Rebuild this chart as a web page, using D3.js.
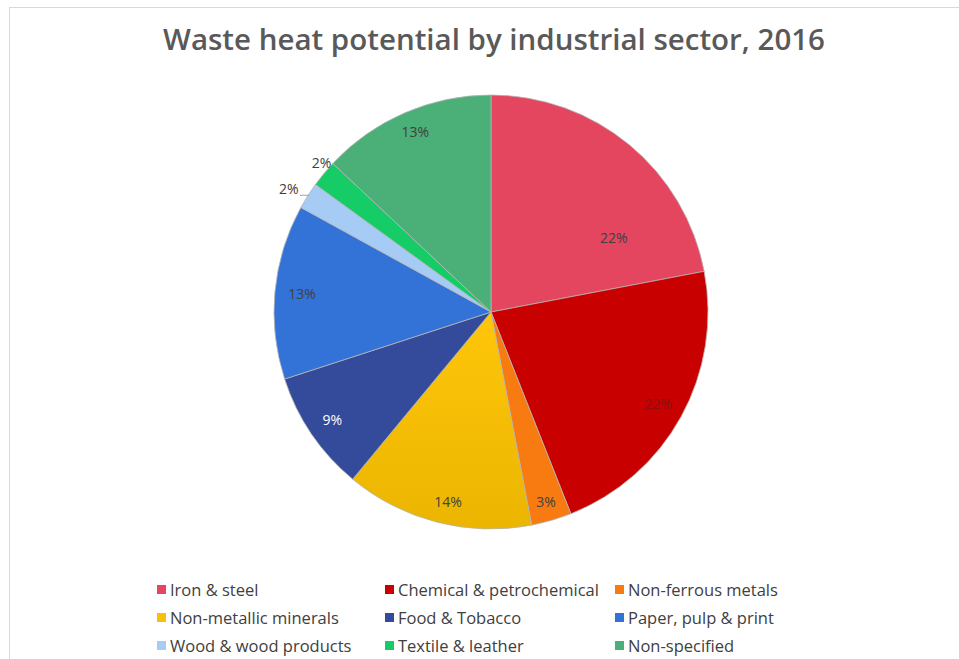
<!DOCTYPE html>
<html>
<head>
<meta charset="utf-8">
<script src="https://cdn.jsdelivr.net/npm/d3@7"></script>
<style>
  html, body { margin: 0; padding: 0; background: #fff; }
  svg { display: block; }
  text { font-family: "Open Sans", "DejaVu Sans", sans-serif; }
</style>
</head>
<body>
<svg id="chart" width="959" height="659"></svg>
<script>
// Waste heat potential by industrial sector, 2016 (share of total, %)
const sectors = [
  "Iron & steel", "Chemical & petrochemical", "Non-ferrous metals",
  "Non-metallic minerals", "Food & Tobacco", "Paper, pulp & print",
  "Wood & wood products", "Textile & leather", "Non-specified"
];
const shares = [22, 22, 3, 14, 9, 13, 2, 2, 13];
const sliceColors = [
  "#E4455F", "#C90000", "#F77B10",
  "#F8C006", "#344A9A", "#3372D7",
  "#A6CBF5", "#16CC66", "#4BAF78"
];
const titleText = "Waste heat potential by industrial sector, 2016";

// label placement: radial factor and angular nudge (radians) per slice
const labelRadius = [0.66, 0.88, 0.91, 0.90, 0.885, 0.875, 1.09, 1.04, 0.90];
const labelNudge  = [0.34, 0, 0, -0.03, 0, 0, -0.02, 0.03, 0.01];
const labelFill   = ["#404040", "#8a1010", "#404040", "#404040", "#ffffff", "#404040", "#404040", "#404040", "#404040"];

const svg = d3.select("#chart");
const W = 959, H = 659;

// outer frame
svg.append("rect")
  .attr("x", 9.5).attr("y", 7.5)
  .attr("width", W).attr("height", H)
  .attr("fill", "none").attr("stroke", "#d9d9d9").attr("stroke-width", 1);

// title
svg.append("text")
  .attr("x", 494).attr("y", 50)
  .attr("text-anchor", "middle")
  .attr("font-size", 29.5).attr("font-weight", 600)
  .attr("fill", "#595959")
  .text(titleText);

const cx = 491, cy = 312, R = 217;
const data = sectors.map((s, i) => ({ sector: s, value: shares[i], color: sliceColors[i], i }));

const pie = d3.pie().value(d => d.value).sort(null);
const arcs = pie(data);
const arc = d3.arc().innerRadius(0).outerRadius(R);

const defs = svg.append("defs");
const yg = defs.append("linearGradient").attr("id", "yellowGrad")
  .attr("x1", 0).attr("y1", 0).attr("x2", 0).attr("y2", 1);
yg.append("stop").attr("offset", "0%").attr("stop-color", "#FFC60A");
yg.append("stop").attr("offset", "100%").attr("stop-color", "#EBB500");

const g = svg.append("g").attr("transform", `translate(${cx},${cy})`);

g.selectAll("path.slice")
  .data(arcs)
  .join("path")
  .attr("class", "slice")
  .attr("d", arc)
  .attr("fill", d => d.data.i === 3 ? "url(#yellowGrad)" : d.data.color)
  .attr("stroke", "#b5b5b5")
  .attr("stroke-width", 0.8);

// percentage labels
function labelPos(d) {
  const i = d.data.i;
  const a = (d.startAngle + d.endAngle) / 2 + labelNudge[i];
  const r = R * labelRadius[i];
  return [Math.sin(a) * r, -Math.cos(a) * r];
}

g.selectAll("text.pct")
  .data(arcs)
  .join("text")
  .attr("class", "pct")
  .attr("x", d => labelPos(d)[0])
  .attr("y", d => labelPos(d)[1])
  .attr("dy", "0.35em")
  .attr("text-anchor", "middle")
  .attr("font-size", 14)
  .attr("fill", d => labelFill[d.data.i])
  .text(d => d.data.value + "%");

// leader for the small outside label (Wood & wood products)
{
  const d = arcs[6];
  const p = labelPos(d);
  g.append("line")
    .attr("x1", p[0] + 11).attr("y1", p[1] + 6)
    .attr("x2", p[0] + 20).attr("y2", p[1] + 6)
    .attr("stroke", "#8c8c8c").attr("stroke-width", 0.8);
}

// legend: three columns, three rows
const colX = [157, 385, 615];
const rowY = [590, 618, 646];
const legend = svg.append("g");
const items = legend.selectAll("g.item")
  .data(data)
  .join("g")
  .attr("class", "item")
  .attr("transform", d => `translate(${colX[d.i % 3]},${rowY[Math.floor(d.i / 3)]})`);
items.append("rect")
  .attr("x", 0).attr("y", -5)
  .attr("width", 9).attr("height", 9)
  .attr("fill", d => d.color);
items.append("text")
  .attr("x", 13).attr("y", 0)
  .attr("dy", "0.35em")
  .attr("font-size", 16.5)
  .attr("fill", "#404040")
  .text(d => d.sector);
</script>
</body>
</html>
